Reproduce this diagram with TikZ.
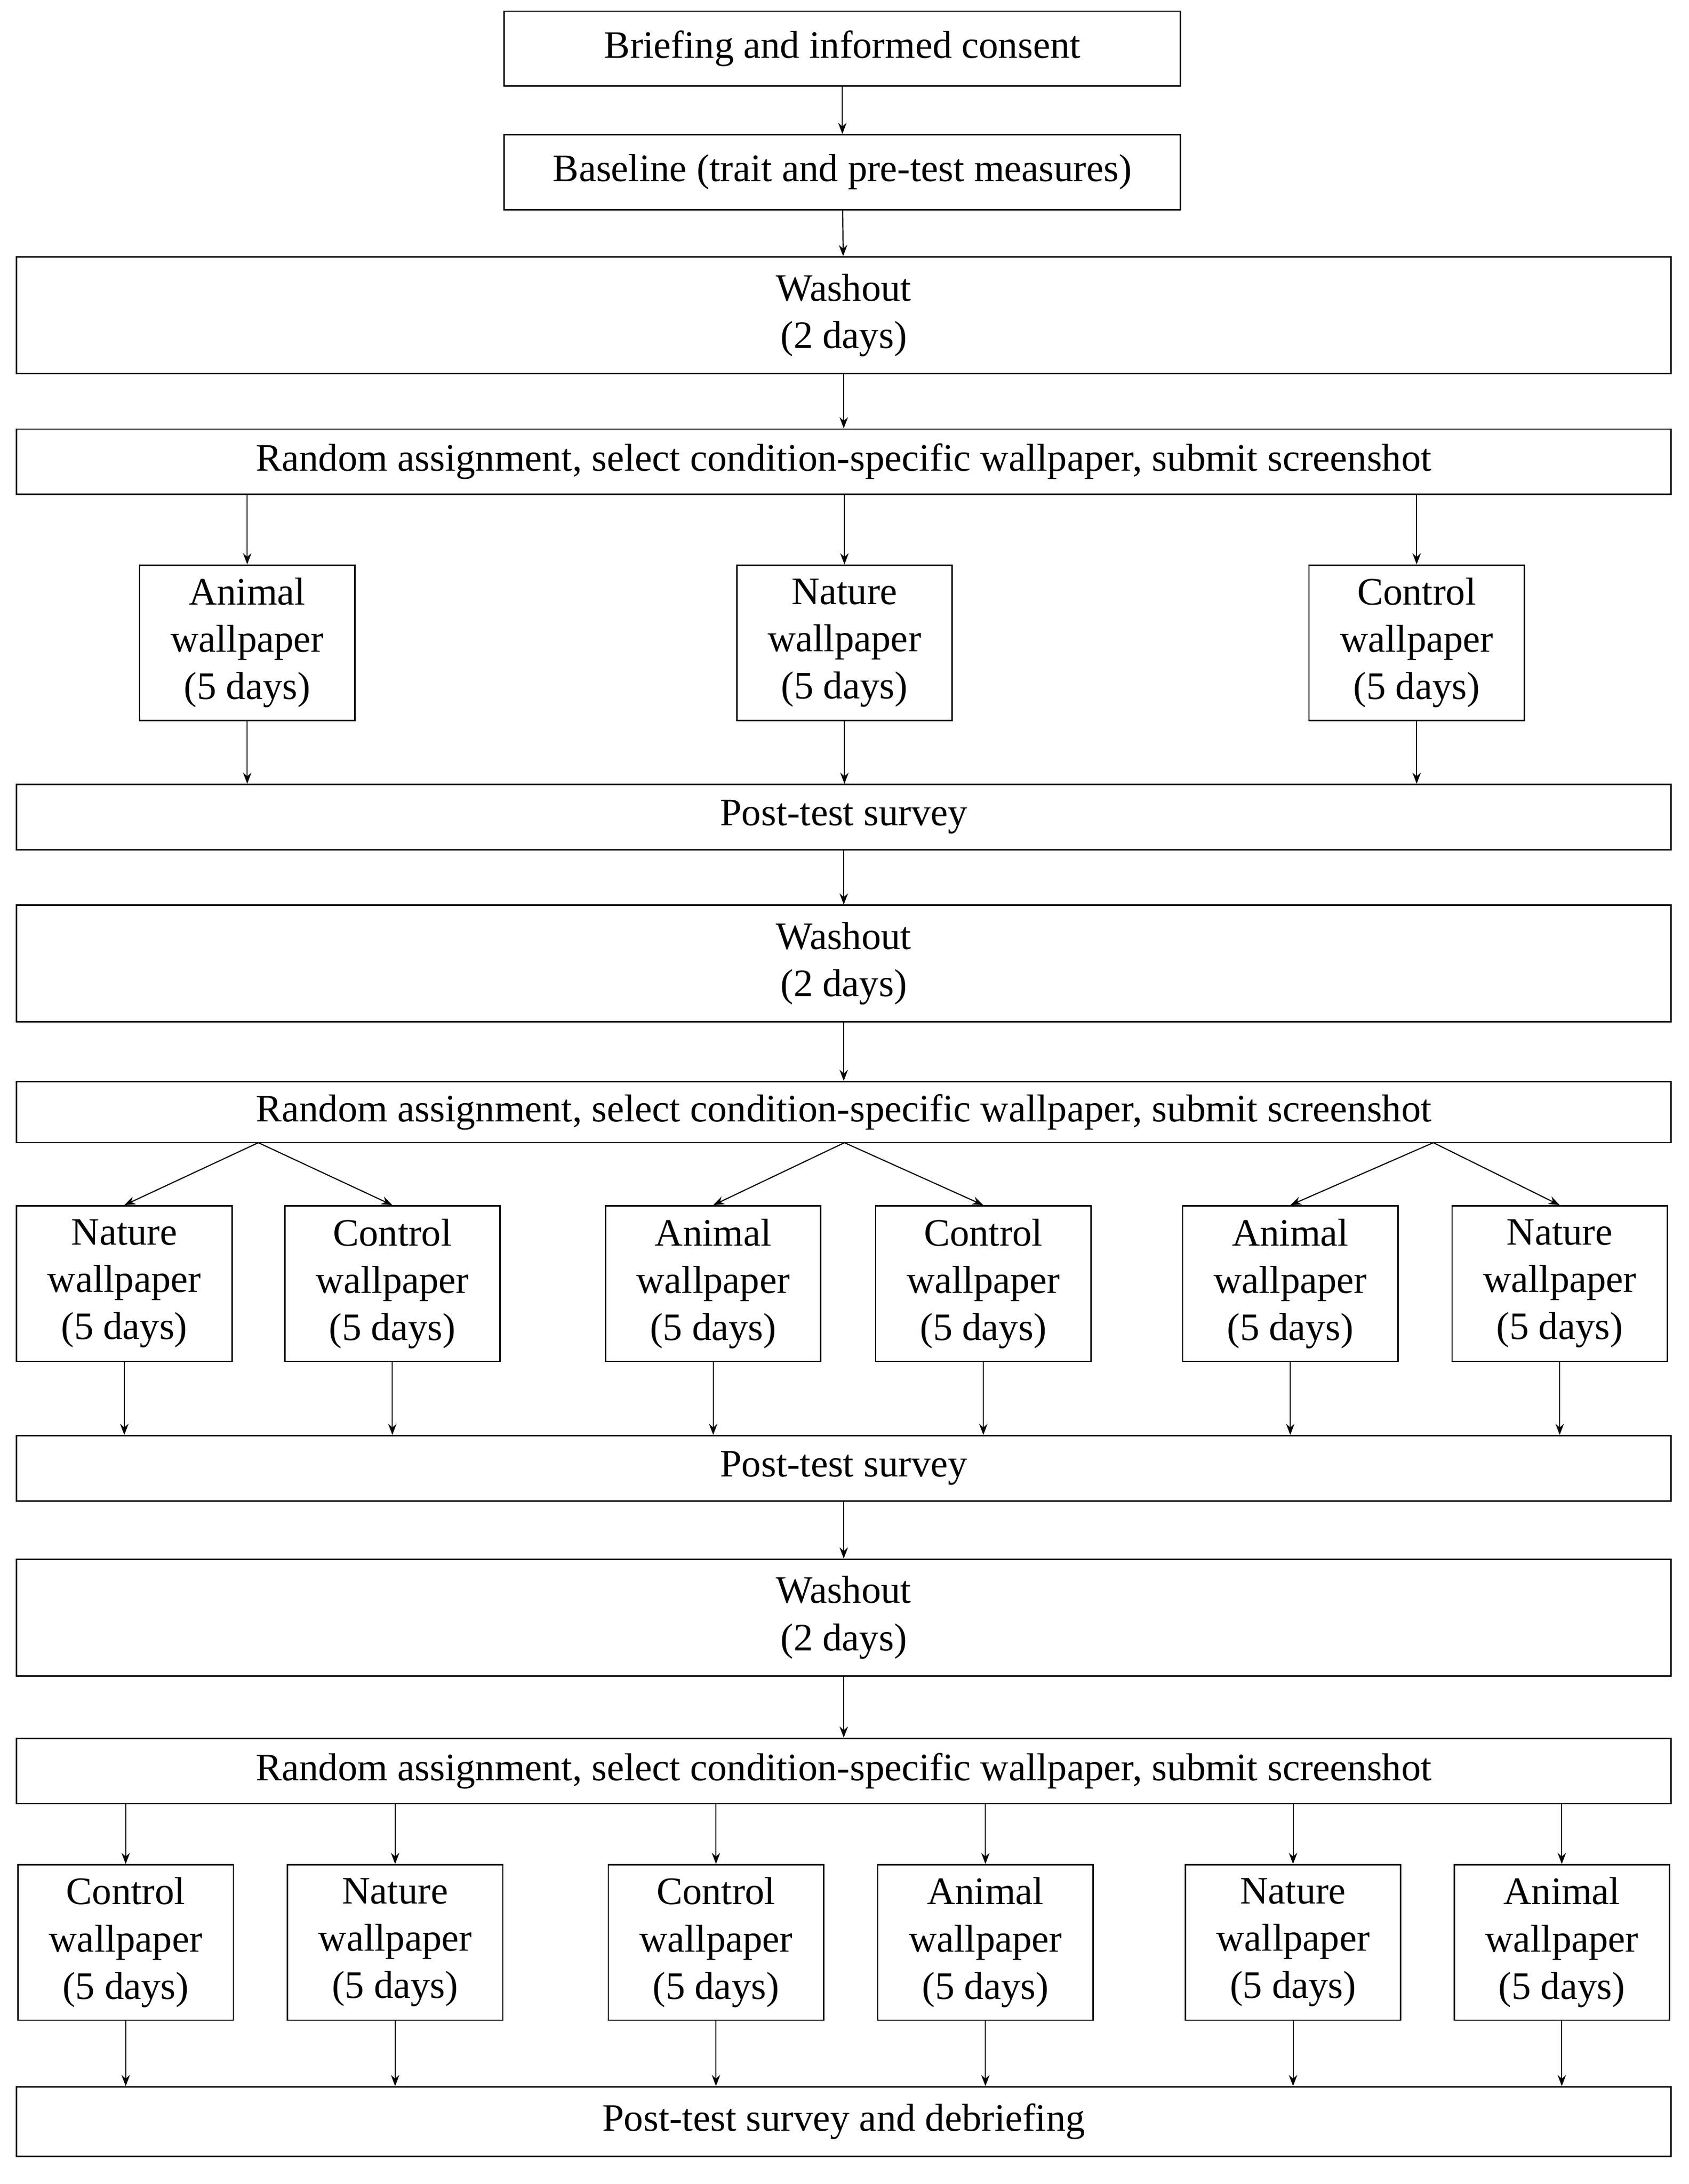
\documentclass[tikz,border=0pt]{standalone}
\usepackage{fontspec}
\setmainfont{Liberation Serif}
\usetikzlibrary{arrows.meta}
\tikzset{
  box/.style={rectangle, draw, line width=0.5pt, align=center, inner sep=0pt, font=\fontsize{14}{17}\selectfont},
  wide/.style={box, minimum width=595.5pt},
  cond/.style={box, minimum width=77.5pt, minimum height=56pt},
  arr/.style={-{Stealth[length=4pt,width=3pt]}, line width=0.4pt}
}
\begin{document}
\begin{tikzpicture}[x=0.5pt, y=-0.5pt]
    \useasboundingbox (0,0) rectangle (1216,1573);
    % Top part
    \node[box, minimum width=243.5pt, minimum height=27pt] (brief) at (606.5,35) {Briefing and informed consent};
    \node[box, minimum width=243.5pt, minimum height=27pt] (base) at (606.5,124) {Baseline (trait and pre-test measures)};
    \node[wide, minimum height=42pt] (wash1) at (607.5,227) {Washout\\(2 days)};
    \node[wide, minimum height=23.5pt] (rand1) at (607.5,332.5) {Random assignment, select condition-specific wallpaper, submit screenshot};
    \draw[arr] (brief) -- (base);
    \draw[arr] (base) -- (wash1);
    \draw[arr] (wash1) -- (rand1);

    % First period
    \node[cond] (animA) at (178,463) {Animal\\wallpaper\\(5 days)};
    \node[cond] (natA) at (608,463) {Nature\\wallpaper\\(5 days)};
    \node[cond] (conA) at (1020,463) {Control\\wallpaper\\(5 days)};
    \node[wide, minimum height=23.5pt] (post1) at (607.5,588.5) {Post-test survey};
    \foreach \n in {animA, natA, conA} {
        \draw[arr] (rand1.south -| \n) -- (\n);
        \draw[arr] (\n) -- (\n |- post1.north);
    }

    % Second period
    \node[wide, minimum height=42pt] (wash2) at (607.5,694) {Washout\\(2 days)};
    \node[wide, minimum height=22pt] (rand2) at (607.5,801) {Random assignment, select condition-specific wallpaper, submit screenshot};
    \draw[arr] (post1) -- (wash2);
    \draw[arr] (wash2) -- (rand2);
    \node[cond] (natB) at (89.5,924.5) {Nature\\wallpaper\\(5 days)};
    \node[cond] (conB) at (282.5,924.5) {Control\\wallpaper\\(5 days)};
    \node[cond] (animC) at (513.5,924.5) {Animal\\wallpaper\\(5 days)};
    \node[cond] (conC) at (708,924.5) {Control\\wallpaper\\(5 days)};
    \node[cond] (animD) at (929,924.5) {Animal\\wallpaper\\(5 days)};
    \node[cond] (natD) at (1123,924.5) {Nature\\wallpaper\\(5 days)};
    \coordinate (fanA) at (186,823);
    \coordinate (fanB) at (608,823);
    \coordinate (fanC) at (1032,823);
    \draw[arr] (fanA) -- (natB.north);
    \draw[arr] (fanA) -- (conB.north);
    \draw[arr] (fanB) -- (animC.north);
    \draw[arr] (fanB) -- (conC.north);
    \draw[arr] (fanC) -- (animD.north);
    \draw[arr] (fanC) -- (natD.north);
    \node[wide, minimum height=23.5pt] (post2) at (607.5,1057.5) {Post-test survey};
    \foreach \n in {natB, conB, animC, conC, animD, natD}
        \draw[arr] (\n) -- (\n |- post2.north);

    % Third period
    \node[wide, minimum height=42pt] (wash3) at (607.5,1165) {Washout\\(2 days)};
    \node[wide, minimum height=23.5pt] (rand3) at (607.5,1275.5) {Random assignment, select condition-specific wallpaper, submit screenshot};
    \draw[arr] (post2) -- (wash3);
    \draw[arr] (wash3) -- (rand3);
    \node[cond] (conE) at (90.5,1399) {Control\\wallpaper\\(5 days)};
    \node[cond] (natE) at (284.5,1399) {Nature\\wallpaper\\(5 days)};
    \node[cond] (conF) at (515.5,1399) {Control\\wallpaper\\(5 days)};
    \node[cond] (animF) at (709.5,1399) {Animal\\wallpaper\\(5 days)};
    \node[cond] (natG) at (931,1399) {Nature\\wallpaper\\(5 days)};
    \node[cond] (animG) at (1124.5,1399) {Animal\\wallpaper\\(5 days)};
    \node[wide, minimum height=25pt] (post3) at (607.5,1528) {Post-test survey and debriefing};
    \foreach \n in {conE, natE, conF, animF, natG, animG} {
        \draw[arr] (rand3.south -| \n) -- (\n);
        \draw[arr] (\n) -- (\n |- post3.north);
    }
\end{tikzpicture}
\end{document}
